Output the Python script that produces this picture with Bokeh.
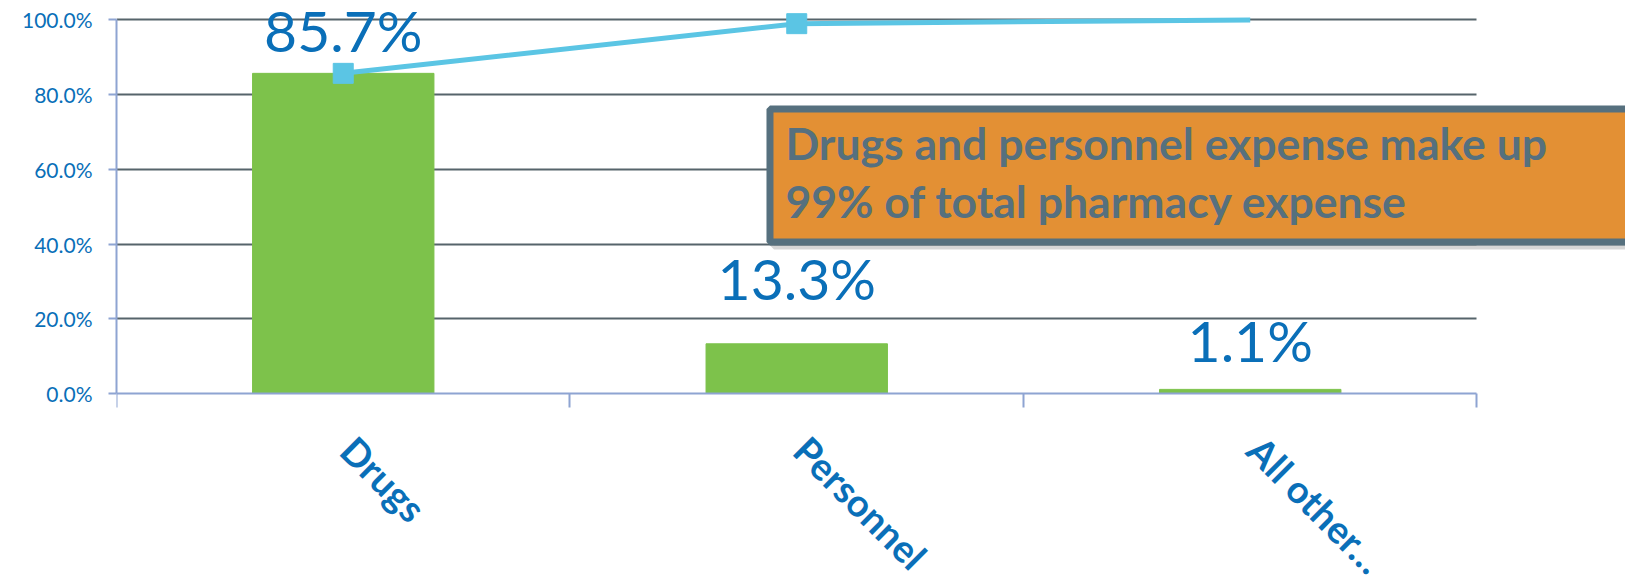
import math
from bokeh.plotting import figure
from bokeh.models import (FixedTicker, PrintfTickFormatter, Label,
                          Range1d, ColumnDataSource)
from bokeh.core.properties import value
from bokeh.embed import file_html
from bokeh.resources import INLINE

# ---- data ----
categories = ["Drugs", "Personnel", "All other…"]
share = [85.7, 13.3, 1.1]
cumulative = [85.7, 99.0, 100.0]
share_labels = ["85.7%", "13.3%", "1.1%"]
y_ticks = [0, 20, 40, 60, 80, 100]
callout_lines = ["Drugs and personnel expense make up",
                 "99% of total pharmacy expense"]

# ---- styling ----
label_gap = [43, 66, 49]          # px offset of data labels above bar tops
BAR = "#7DC24B"
LINE = "#5BC5E4"
BLUE = "#0A6FB8"
AXIS = "#8EA4D2"
GRID = "#56646B"
ORANGE = "#E39034"
SLATE = "#56707E"

centers = [i + 0.5 for i in range(len(categories))]
src = ColumnDataSource(dict(x=centers, share=share, cum=cumulative,
                            label=share_labels, dy=[-g for g in label_gap]))

p = figure(width=1625, height=580, output_backend="svg", toolbar_location=None,
           x_range=Range1d(0, 3.3275), y_range=Range1d(-50.06, 105.2),
           min_border_left=116, min_border_right=0, min_border_top=0,
           min_border_bottom=0)
p.outline_line_color = None

# grid
p.xgrid.visible = False
p.ygrid.ticker = FixedTicker(ticks=y_ticks[1:])
p.ygrid.grid_line_color = GRID
p.ygrid.grid_line_width = 2
try:
    p.ygrid.cross_bounds = (0, len(categories))
except Exception:
    pass

# bars
p.vbar(x="x", top="share", width=0.4, source=src, color=BAR)

# cumulative line
p.line(x="x", y="cum", source=src, line_color=LINE, line_width=5)
p.scatter(x=centers[:2], y=cumulative[:2], marker="square", size=20,
          color=LINE)

# data labels
p.text(x="x", y="share", text="label", source=src, y_offset="dy",
       text_align="center", text_baseline="alphabetic",
       text_font=value("Lato"), text_font_size="57px", text_color=BLUE)

# callout box (shadow + box), drawn above bars/line
p.quad(left=[1.450], right=[3.7], top=[75.1], bottom=[39.5],
       fill_color="#8A8A8A", fill_alpha=0.35,
       line_color="#8A8A8A", line_alpha=0.35, line_width=7)
p.quad(left=[1.441], right=[3.6], top=[76.17], bottom=[40.56],
       fill_color=ORANGE, line_color=SLATE, line_width=7)
for txt, yv in zip(callout_lines, [67.1, 51.57]):
    p.add_layout(Label(x=1.475, y=yv, text=txt, text_font="Lato",
                       text_font_style="bold", text_font_size="44.5px",
                       text_color=SLATE, text_baseline="alphabetic"))

# y axis
ya = p.yaxis[0]
ya.ticker = FixedTicker(ticks=y_ticks)
ya.formatter = PrintfTickFormatter(format="%.1f%%")
ya.bounds = (0, 100)
ya.axis_line_color = AXIS
ya.axis_line_width = 2
ya.major_tick_line_color = AXIS
ya.major_tick_line_width = 2
ya.major_tick_in = 0
ya.major_tick_out = 8
ya.minor_tick_line_color = None
ya.major_label_standoff = 16
ya.major_label_text_font = "Lato"
ya.major_label_text_font_size = "21px"
ya.major_label_text_color = BLUE

# x axis at y = 0: boundary ticks only; category names as rotated labels
xa = p.xaxis[0]
xa.fixed_location = 0
xa.ticker = FixedTicker(ticks=[], minor_ticks=list(range(len(categories) + 1)))
xa.bounds = (0, len(categories))
xa.axis_line_color = AXIS
xa.axis_line_width = 2
xa.major_tick_line_color = None
xa.minor_tick_line_color = AXIS
xa.minor_tick_line_width = 2
xa.minor_tick_in = 0
xa.minor_tick_out = 14
xa.major_label_text_font_size = "0px"

for c, name in zip(centers, categories):
    p.add_layout(Label(x=c, y=-8.9, x_offset=21, text=name,
                       angle=-math.pi / 4, text_align="left",
                       text_baseline="top", text_font="Lato",
                       text_font_style="bold", text_font_size="38px",
                       text_color=BLUE))

open("out.html", "w").write(file_html(p, INLINE))
